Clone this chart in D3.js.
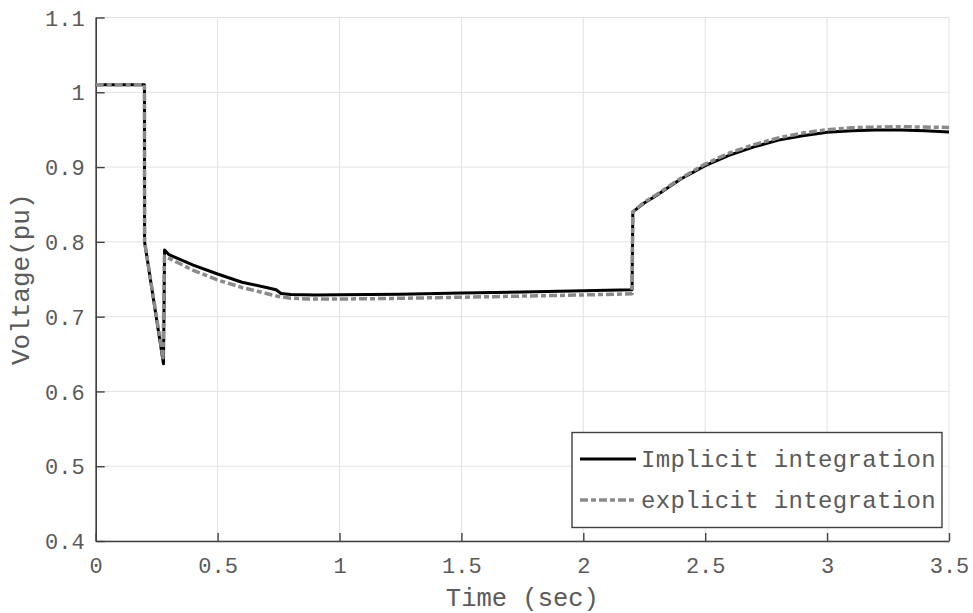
<!DOCTYPE html>
<html>
<head>
<meta charset="utf-8">
<script src="https://cdn.jsdelivr.net/npm/d3@7/dist/d3.min.js"></script>
<style>
  html, body { margin: 0; padding: 0; background: #fff; }
  svg { display: block; }
  text { font-family: "Liberation Mono", "Courier New", monospace; fill: #5a5a5a; }
</style>
</head>
<body>
<svg id="chart" width="973" height="613"></svg>
<script>
// Bus voltage after a fault: implicit vs explicit integration
const implicitT = [0, 0.2, 0.2005, 0.278, 0.2825, 0.3, 0.35, 0.4, 0.5, 0.6, 0.7, 0.74, 0.76, 0.8, 0.9, 1.0, 1.25, 1.5, 1.75, 2.0, 2.2, 2.203, 2.25, 2.3, 2.35, 2.4, 2.5, 2.6, 2.7, 2.8, 2.9, 3.0, 3.1, 3.2, 3.3, 3.4, 3.5];
const implicitV = [1.01, 1.01, 0.80, 0.637, 0.789, 0.783, 0.776, 0.769, 0.757, 0.746, 0.739, 0.736, 0.731, 0.7295, 0.729, 0.7292, 0.730, 0.7315, 0.733, 0.7345, 0.736, 0.84, 0.852, 0.862, 0.873, 0.884, 0.902, 0.916, 0.927, 0.936, 0.942, 0.9465, 0.9485, 0.9495, 0.9495, 0.9485, 0.947];

const explicitT = [0, 0.2, 0.2005, 0.276, 0.282, 0.3, 0.35, 0.4, 0.5, 0.6, 0.7, 0.75, 0.8, 0.9, 1.0, 1.25, 1.5, 1.75, 2.0, 2.2, 2.203, 2.25, 2.3, 2.35, 2.4, 2.5, 2.6, 2.7, 2.8, 2.9, 3.0, 3.1, 3.2, 3.3, 3.4, 3.5];
const explicitV = [1.01, 1.01, 0.80, 0.645, 0.781, 0.778, 0.770, 0.762, 0.749, 0.739, 0.731, 0.727, 0.7246, 0.7235, 0.7235, 0.7245, 0.726, 0.7275, 0.729, 0.7305, 0.84, 0.853, 0.863, 0.874, 0.885, 0.904, 0.919, 0.930, 0.939, 0.9455, 0.950, 0.9525, 0.9535, 0.954, 0.9535, 0.953];

const xTicks = [0, 0.5, 1, 1.5, 2, 2.5, 3, 3.5];
const yTicks = [0.4, 0.5, 0.6, 0.7, 0.8, 0.9, 1, 1.1];
const seriesNames = ["Implicit integration", "explicit integration"];
const xLabel = "Time (sec)";
const yLabel = "Voltage(pu)";

const svg = d3.select("#chart");
const plot = { left: 95.7, right: 949, top: 17.5, bottom: 541 };

const x = d3.scaleLinear().domain([0, 3.5]).range([plot.left, plot.right]);
const y = d3.scaleLinear().domain([0.4, 1.1]).range([plot.bottom, plot.top]);

const axisColor = "#404040";
const dashDot = "8,3,5,3";

// grid
const grid = svg.append("g");
grid.selectAll("line.vx").data(xTicks).join("line")
  .attr("x1", d => x(d)).attr("x2", d => x(d))
  .attr("y1", plot.top).attr("y2", plot.bottom)
  .attr("stroke", "#e2e2e2").attr("stroke-width", 1);
grid.selectAll("line.hy").data(yTicks).join("line")
  .attr("x1", plot.left).attr("x2", plot.right)
  .attr("y1", d => y(d)).attr("y2", d => y(d))
  .attr("stroke", "#e2e2e2").attr("stroke-width", 1);

// axes (ticks point inward)
const fmt = d => d3.format("")(d);
const xAxis = d3.axisBottom(x).tickValues(xTicks).tickFormat(fmt).tickSizeInner(-8).tickSizeOuter(0).tickPadding(20);
const yAxis = d3.axisLeft(y).tickValues(yTicks).tickFormat(fmt).tickSizeInner(-9).tickSizeOuter(0).tickPadding(20);

const gx = svg.append("g").attr("transform", `translate(0,${plot.bottom})`).call(xAxis);
const gy = svg.append("g").attr("transform", `translate(${plot.left},0)`).call(yAxis);
[gx, gy].forEach(g => {
  g.select(".domain").attr("stroke", axisColor).attr("stroke-width", 1.6);
  g.selectAll(".tick line").attr("stroke", axisColor).attr("stroke-width", 1.4);
  g.selectAll(".tick text").attr("font-family", "Liberation Mono, monospace")
    .attr("font-size", 22).attr("fill", "#5a5a5a");
});
gx.selectAll(".tick text").attr("dy", "0.55em");
gy.selectAll(".tick text").attr("x", -11).attr("dy", "0.35em");

// axis titles
svg.append("text").attr("x", (plot.left + plot.right) / 2).attr("y", 606)
  .attr("text-anchor", "middle").attr("font-size", 25.5).text(xLabel);
svg.append("text").attr("transform", `translate(29,${(plot.top + plot.bottom) / 2}) rotate(-90)`)
  .attr("text-anchor", "middle").attr("font-size", 26).text(yLabel);

// series
const line = d3.line().x(d => x(d[0])).y(d => y(d[1]));
const implicitData = implicitT.map((t, i) => [t, implicitV[i]]);
const explicitData = explicitT.map((t, i) => [t, explicitV[i]]);

svg.append("path").datum(implicitData).attr("d", line)
  .attr("fill", "none").attr("stroke", "#000").attr("stroke-width", 3)
  .attr("stroke-linejoin", "round");
svg.append("path").datum(explicitData).attr("d", line)
  .attr("fill", "none").attr("stroke", "#8a8a8a").attr("stroke-width", 3.5)
  .attr("stroke-dasharray", dashDot).attr("stroke-linejoin", "round");

// legend
const lg = svg.append("g");
lg.append("rect").attr("x", 572).attr("y", 432.5).attr("width", 370).attr("height", 95)
  .attr("fill", "#fff").attr("stroke", axisColor).attr("stroke-width", 1.4);
const legendRows = [
  { name: seriesNames[0], y: 459, color: "#000", dash: null, w: 3 },
  { name: seriesNames[1], y: 500, color: "#8a8a8a", dash: dashDot, w: 3.5 }
];
legendRows.forEach(r => {
  lg.append("line").attr("x1", 580).attr("x2", 636).attr("y1", r.y).attr("y2", r.y)
    .attr("stroke", r.color).attr("stroke-width", r.w)
    .attr("stroke-dasharray", r.dash);
  lg.append("text").attr("x", 641).attr("y", r.y).attr("dy", "0.35em")
    .attr("font-size", 24).attr("letter-spacing", 0.35).text(r.name);
});
</script>
</body>
</html>
